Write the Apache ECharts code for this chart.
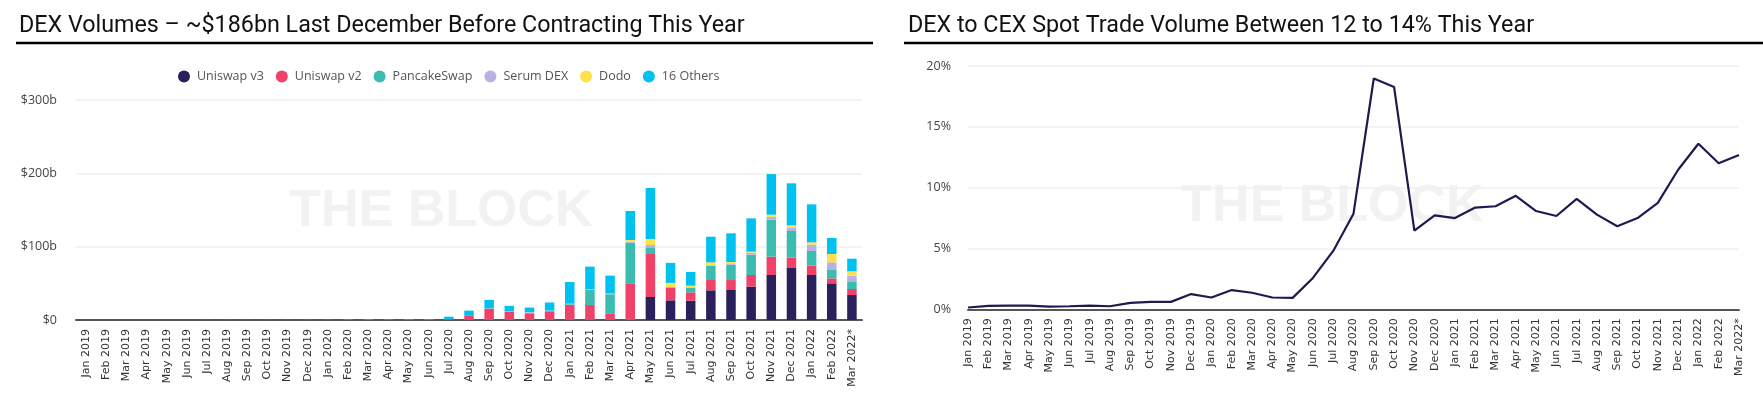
<!DOCTYPE html>
<html>
<head>
<meta charset="utf-8">
<title>DEX volumes</title>
<script src="https://cdn.jsdelivr.net/npm/echarts@6/dist/echarts.min.js"></script>
<style>
  html, body { margin: 0; padding: 0; background: #fff; }
  #chart { width: 1763px; height: 397px; }
</style>
</head>
<body>
<div id="chart"></div>
<script>
// months shared by both panels
const months = [
  "Jan 2019", "Feb 2019", "Mar 2019", "Apr 2019", "May 2019", "Jun 2019",
  "Jul 2019", "Aug 2019", "Sep 2019", "Oct 2019", "Nov 2019", "Dec 2019",
  "Jan 2020", "Feb 2020", "Mar 2020", "Apr 2020", "May 2020", "Jun 2020",
  "Jul 2020", "Aug 2020", "Sep 2020", "Oct 2020", "Nov 2020", "Dec 2020",
  "Jan 2021", "Feb 2021", "Mar 2021", "Apr 2021", "May 2021", "Jun 2021",
  "Jul 2021", "Aug 2021", "Sep 2021", "Oct 2021", "Nov 2021", "Dec 2021",
  "Jan 2022", "Feb 2022", "Mar 2022*",
];

// monthly DEX volume, $bn
const uniswapV3 = [
  0, 0, 0, 0, 0, 0, 0, 0, 0, 0, 0, 0,
  0, 0, 0, 0, 0, 0, 0, 0, 0, 0, 0, 0,
  0, 0, 0, 0, 31.4, 26.8, 26.4, 40.5, 40.9, 45.5, 61.4, 70.9,
  61.4, 50, 34.1,
];
const uniswapV2 = [
  0, 0, 0, 0, 0, 0, 0, 0, 0, 0, 0, 0,
  0, 0, 0, 0, 0.2, 0.3, 1.2, 6.4, 15.5, 10.9, 9.1, 11.8,
  20.5, 20.5, 9.1, 50, 58.6, 17.3, 11.3, 14, 13.6, 15.9, 25, 14.1,
  12.7, 6.8, 8.2,
];
const pancakeSwap = [
  0, 0, 0, 0, 0, 0, 0, 0, 0, 0, 0, 0,
  0, 0, 0, 0, 0, 0, 0, 0, 0.1, 0.2, 0.5, 0.5,
  1, 20.4, 26, 55.5, 9.1, 0.6, 6.4, 19.6, 21, 27.7, 50.4, 36.4,
  20, 12.3, 9.5,
];
const serumDex = [
  0, 0, 0, 0, 0, 0, 0, 0, 0, 0, 0, 0,
  0, 0, 0, 0, 0, 0, 0, 0.1, 0.2, 0.3, 0.8, 0.3,
  0.4, 0.5, 0.5, 1.3, 3.2, 0.4, 0.5, 0.5, 1.8, 2.7, 3.7, 4.5,
  8.6, 9.5, 8.7,
];
const dodo = [
  0, 0, 0, 0, 0, 0, 0, 0, 0, 0, 0, 0,
  0, 0, 0, 0, 0, 0, 0, 0, 0.1, 0.2, 0.2, 0.2,
  0.3, 0.3, 0.4, 2.3, 8.2, 5.5, 2.2, 4, 1.8, 1.4, 3.1, 3.2,
  3.2, 11.4, 5.9,
];
const others = [
  0.1, 0.1, 0.1, 0.1, 0.1, 0.1, 0.2, 0.2, 0.2, 0.2, 0.2, 0.3,
  0.3, 0.8, 0.9, 0.8, 0.9, 1.0, 3.3, 6.3, 11.5, 7.7, 6.4, 11.1,
  29.6, 31.1, 24.5, 39.5, 69.5, 27.3, 18.7, 35, 39.1, 45.4, 55.4, 57.3,
  51.8, 21.8, 17.2,
];

// DEX to CEX spot volume, %
const dexToCex = [
  0.15, 0.28, 0.31, 0.3, 0.22, 0.25, 0.31, 0.25, 0.53, 0.61, 0.61, 1.25,
  0.97, 1.58, 1.36, 0.97, 0.94, 2.58, 4.8, 7.86, 18.97, 18.28, 6.47, 7.72,
  7.5, 8.36, 8.47, 9.33, 8.08, 7.67, 9.08, 7.78, 6.83, 7.5, 8.75, 11.47,
  13.61, 12.0, 12.69,
];

const volumeTicks = { 0: "$0", 100: "$100b", 200: "$200b", 300: "$300b" };

const stackSeries = [
  { name: "Uniswap v3", data: uniswapV3, color: "#29205c" },
  { name: "Uniswap v2", data: uniswapV2, color: "#f0416a" },
  { name: "PancakeSwap", data: pancakeSwap, color: "#3bbcb0" },
  { name: "Serum DEX", data: serumDex, color: "#b6b2e2" },
  { name: "Dodo", data: dodo, color: "#fde04a" },
  { name: "16 Others", data: others, color: "#00c2f0" },
];

const axisLabelFont = "'Open Sans', sans-serif";
const titleFont = "Roboto, sans-serif";

const chart = echarts.init(document.getElementById("chart"), null, { renderer: "canvas" });

const xAxisBase = {
  type: "category",
  data: months,
  axisTick: { show: false },
  axisLine: { lineStyle: { color: "#555", width: 2 } },
  axisLabel: {
    rotate: 90,
    interval: 0,
    margin: 9,
    fontSize: 11,
    color: "#333",
    fontFamily: "'DejaVu Sans', sans-serif",
  },
};

const yAxisBase = {
  type: "value",
  axisLine: { show: false },
  axisTick: { show: false },
  splitLine: { lineStyle: { color: "#efefef", width: 1.5 } },
  axisLabel: { fontSize: 12.5, color: "#444", fontFamily: axisLabelFont },
};

chart.setOption({
  animation: false,
  title: [
    {
      text: "DEX Volumes – ~$186bn Last December Before Contracting This Year",
      left: 14,
      top: 10,
      textStyle: { fontFamily: titleFont, fontSize: 23.3, fontWeight: "normal", color: "#111" },
    },
    {
      text: "DEX to CEX Spot Trade Volume Between 12 to 14% This Year",
      left: 903,
      top: 10,
      textStyle: { fontFamily: titleFont, fontSize: 23.3, fontWeight: "normal", color: "#111" },
    },
  ],
  graphic: [
    { type: "line", shape: { x1: 16, y1: 43, x2: 873, y2: 43 }, style: { stroke: "#000", lineWidth: 2.5 } },
    { type: "line", shape: { x1: 904, y1: 43, x2: 1763, y2: 43 }, style: { stroke: "#000", lineWidth: 2.5 } },
    {
      type: "text", z: -1, x: 441, y: 212,
      style: {
        text: "THE BLOCK", fill: "#f2f2f2", align: "center", verticalAlign: "middle",
        font: "bold 52px 'Liberation Sans', Arial, sans-serif",
      },
    },
    {
      type: "text", z: -1, x: 1332, y: 207,
      style: {
        text: "THE BLOCK", fill: "#f2f2f2", align: "center", verticalAlign: "middle",
        font: "bold 52px 'Liberation Sans', Arial, sans-serif",
      },
    },
  ],
  legend: {
    left: 173,
    top: 65,
    icon: "circle",
    itemWidth: 12,
    itemHeight: 12,
    itemGap: 12,
    data: stackSeries.map((s) => s.name),
    textStyle: { fontSize: 12.5, color: "#555", fontFamily: axisLabelFont, padding: [0, 0, 0, 2] },
  },
  grid: [
    { left: 76, top: 100, width: 786, height: 220 },
    { left: 968, top: 66, width: 771, height: 243.3 },
  ],
  xAxis: [
    { ...xAxisBase, gridIndex: 0, boundaryGap: true },
    { ...xAxisBase, gridIndex: 1, boundaryGap: false },
  ],
  yAxis: [
    {
      ...yAxisBase,
      gridIndex: 0,
      min: 0,
      max: 300,
      interval: 100,
      axisLabel: { ...yAxisBase.axisLabel, margin: 19, formatter: (v) => volumeTicks[v] },
    },
    {
      ...yAxisBase,
      gridIndex: 1,
      min: 0,
      max: 20,
      interval: 5,
      axisLabel: { ...yAxisBase.axisLabel, margin: 17, formatter: (v) => `${v}%` },
    },
  ],
  series: [
    ...stackSeries.map((s) => ({
      name: s.name,
      type: "bar",
      stack: "dex",
      xAxisIndex: 0,
      yAxisIndex: 0,
      data: s.data,
      barWidth: 9.5,
      itemStyle: { color: s.color },
    })),
    {
      name: "DEX / CEX",
      type: "line",
      xAxisIndex: 1,
      yAxisIndex: 1,
      data: dexToCex,
      showSymbol: false,
      lineStyle: { color: "#1e1a4f", width: 2.2 },
      itemStyle: { color: "#1e1a4f" },
    },
  ],
});

window.addEventListener("resize", () => chart.resize());
</script>
</body>
</html>
